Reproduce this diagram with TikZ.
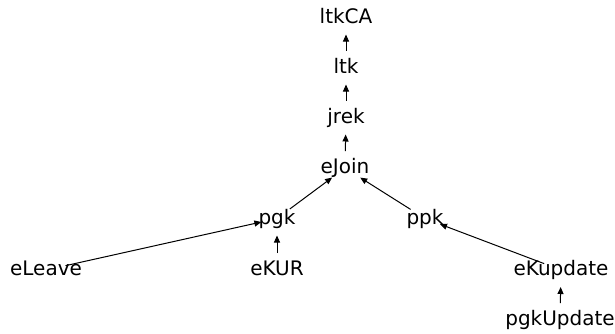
\documentclass[tikz,border=0pt]{standalone}
\usepackage{fontspec}
\setmainfont{DejaVu Sans}
\usetikzlibrary{arrows.meta}
\begin{document}
\begin{tikzpicture}[x=1pt,y=-1pt,
  lbl/.style={inner sep=0pt,text height=15pt,text depth=4pt,font=\fontsize{20}{24}\selectfont},
  edge/.style={-{Triangle[length=7pt,width=6pt]},line width=1pt,shorten <=17pt,shorten >=17pt}]
\useasboundingbox (0,0) rectangle (615,333);
\node[lbl] (ltkCA) at (346,17.5) {ltkCA};
\node[lbl] (ltk) at (346,67.5) {ltk};
\node[lbl] (jrek) at (346,117.5) {jrek};
\node[lbl] (eJoin) at (345,168) {eJoin};
\node[lbl] (pgk) at (277,218.5) {pgk};
\node[lbl] (ppk) at (425,218.5) {ppk};
\node[lbl] (eLeave) at (46,270) {eLeave};
\node[lbl] (eKUR) at (277,270) {eKUR};
\node[lbl] (eKupdate) at (561,270) {eKupdate};
\node[lbl] (pgkUpdate) at (560,320) {pgkUpdate};
\draw[edge] (ltk.center) -- (ltkCA.center);
\draw[edge] (jrek.center) -- (ltk.center);
\draw[edge] (eJoin.center) -- (jrek.center);
\draw[edge,shorten <=16pt,shorten >=16pt] (pgk.center) -- (eJoin.center);
\draw[edge,shorten >=18pt] (ppk.center) -- (eJoin.center);
\draw[edge,shorten <=20pt,shorten >=16pt] (eLeave.center) -- (pgk.center);
\draw[edge] (eKUR.center) -- (pgk.center);
\draw[edge,shorten <=18pt,shorten >=16pt] (eKupdate.center) -- (ppk.center);
\draw[edge] (pgkUpdate.center) -- (eKupdate.center);
\end{tikzpicture}
\end{document}
